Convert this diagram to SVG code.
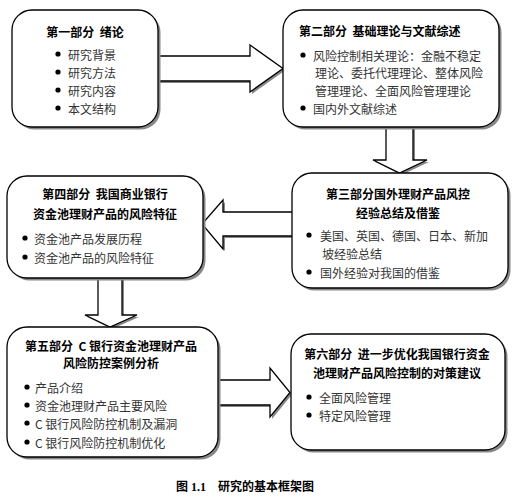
<svg xmlns="http://www.w3.org/2000/svg" width="516" height="500" viewBox="0 0 516 500">
<style>
.box{fill:#fff;stroke:#000;stroke-width:1.3}
.arr{fill:#fff;stroke:#000;stroke-width:1.3;stroke-linejoin:miter}
.sh{fill:#888;stroke:none}
text{font-family:"Noto Sans CJK SC","Noto Sans",sans-serif;font-size:12px;fill:#333;dominant-baseline:central}
.t{fill:#000;font-weight:bold;font-size:12px}
.c{text-anchor:middle}
.cap{fill:#000;font-weight:bold;font-size:12px;font-family:"Liberation Serif","Noto Sans CJK SC",serif}
.dot{fill:#000}
</style>
<g id="connectors">
<polygon class="sh" points="160,58 252,58 252,47 285,70.5 252,94 252,83 160,83"/>
<polygon class="arr" points="158,56 250,56 250,45 283,68.5 250,92 250,81 158,81"/>
<polygon class="sh" points="388,127 415,127 415,162 429,162 401.5,175 375,162 388,162"/>
<polygon class="arr" points="386,125 413,125 413,160 427,160 399.5,173 373,160 386,160"/>
<polygon class="sh" points="296,214 225,214 225,202 204,226 225,251 225,238 296,238"/>
<polygon class="arr" points="294,212 223,212 223,200 202,224 223,249 223,236 294,236"/>
<polygon class="sh" points="100,278 124,278 124,317 139,317 112,329 87,317 100,317"/>
<polygon class="arr" points="98,276 122,276 122,315 137,315 110,327 85,315 98,315"/>
<polygon class="sh" points="218,382 272,382 272,370 292,394.5 272,419 272,407 218,407"/>
<polygon class="arr" points="216,380 270,380 270,368 290,392.5 270,417 270,405 216,405"/>
</g>
<g id="node1">
<rect class="sh" x="14.5" y="12.5" width="146" height="117" rx="20"/>
<rect class="box" x="12" y="10" width="146" height="117" rx="20"/>
<text class="t c" x="85" y="31" xml:space="preserve">第一部分  绪论</text>
<circle class="dot" cx="58" cy="54" r="2.6"/><text x="68" y="54">研究背景</text>
<circle class="dot" cx="58" cy="72" r="2.6"/><text x="68" y="72">研究方法</text>
<circle class="dot" cx="58" cy="90" r="2.6"/><text x="68" y="90">研究内容</text>
<circle class="dot" cx="58" cy="108" r="2.6"/><text x="68" y="108">本文结构</text>
</g>
<g id="node2">
<rect class="sh" x="285.5" y="12.5" width="216" height="117" rx="20"/>
<rect class="box" x="283" y="10" width="216" height="117" rx="20"/>
<text class="t" x="299" y="30" xml:space="preserve">第二部分  基础理论与文献综述</text>
<circle class="dot" cx="303" cy="55" r="2.6"/><text x="313" y="55">风险控制相关理论：金融不稳定</text>
<text x="315" y="72">理论、委托代理理论、整体风险</text>
<text x="315" y="90">管理理论、全面风险管理理论</text>
<circle class="dot" cx="303" cy="108" r="2.6"/><text x="313" y="108">国内外文献综述</text>
</g>
<g id="node3">
<rect class="sh" x="294.5" y="175.5" width="216" height="115" rx="20"/>
<rect class="box" x="292" y="173" width="216" height="115" rx="20"/>
<text class="t c" x="398" y="193">第三部分国外理财产品风控</text>
<text class="t c" x="398" y="212">经验总结及借鉴</text>
<circle class="dot" cx="309" cy="235" r="2.6"/><text x="320" y="235">美国、英国、德国、日本、新加</text>
<text x="322" y="253">坡经验总结</text>
<circle class="dot" cx="309" cy="272" r="2.6"/><text x="320" y="272">国外经验对我国的借鉴</text>
</g>
<g id="node4">
<rect class="sh" x="9.5" y="178.5" width="196" height="102" rx="20"/>
<rect class="box" x="7" y="176" width="196" height="102" rx="20"/>
<text class="t c" x="105" y="193" xml:space="preserve">第四部分  我国商业银行</text>
<text class="t c" x="105" y="213">资金池理财产品的风险特征</text>
<circle class="dot" cx="25" cy="238" r="2.6"/><text x="34" y="238">资金池产品发展历程</text>
<circle class="dot" cx="25" cy="257" r="2.6"/><text x="34" y="257">资金池产品的风险特征</text>
</g>
<g id="node5">
<rect class="sh" x="9.5" y="329.5" width="211" height="130" rx="20"/>
<rect class="box" x="7" y="327" width="211" height="130" rx="20"/>
<text class="t c" x="111" y="345" xml:space="preserve">第五部分  C 银行资金池理财产品</text>
<text class="t c" x="111" y="362">风险防控案例分析</text>
<circle class="dot" cx="27" cy="387" r="2.6"/><text x="35" y="387">产品介绍</text>
<circle class="dot" cx="27" cy="405" r="2.6"/><text x="35" y="405">资金池理财产品主要风险</text>
<circle class="dot" cx="27" cy="423" r="2.6"/><text x="35" y="423">C 银行风险防控机制及漏洞</text>
<circle class="dot" cx="27" cy="442" r="2.6"/><text x="35" y="442">C 银行风险防控机制优化</text>
</g>
<g id="node6">
<rect class="sh" x="293.5" y="336.5" width="214" height="116" rx="20"/>
<rect class="box" x="291" y="334" width="214" height="116" rx="20"/>
<text class="t c" x="397" y="353" xml:space="preserve">第六部分  进一步优化我国银行资金</text>
<text class="t c" x="397" y="372">池理财产品风险控制的对策建议</text>
<circle class="dot" cx="309" cy="397" r="2.6"/><text x="319" y="397">全面风险管理</text>
<circle class="dot" cx="309" cy="415" r="2.6"/><text x="319" y="415">特定风险管理</text>
</g>
<text class="cap c" x="245" y="487" xml:space="preserve">图 1.1    研究的基本框架图</text>
</svg>
